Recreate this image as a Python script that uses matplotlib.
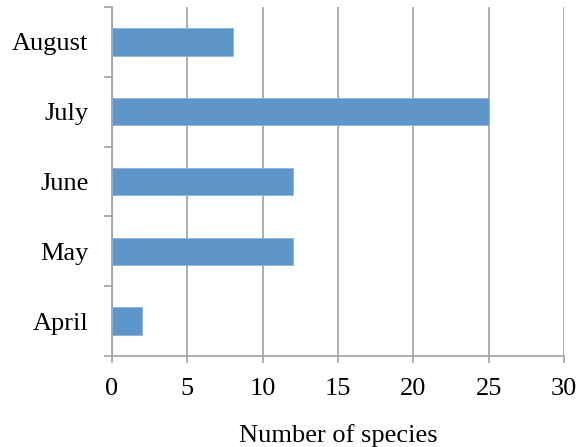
import matplotlib
matplotlib.use("Agg")
import matplotlib.pyplot as plt

months = ["April", "May", "June", "July", "August"]
species = [2, 12, 12, 25, 8]
x_ticks = [0, 5, 10, 15, 20, 25, 30]

plt.rcParams['font.family'] = ['Liberation Serif', 'DejaVu Serif']

fig = plt.figure(figsize=(5.78, 4.47), dpi=100)
ax = fig.add_axes([0.1938, 0.2036, 0.782, 0.7807])

grid_c = "#a0a0a0"
ax.barh(months, species, height=0.39, color="#5f96ca", edgecolor="#8db4dc",
        linewidth=0.6, zorder=3)

ax.set_xlim(0, 30)
ax.set_ylim(-0.5, 4.5)
ax.set_xticks(x_ticks)
ax.set_yticks([i - 0.5 for i in range(6)], minor=False)
ax.set_yticks(range(5), minor=True)
ax.set_yticklabels([""] * 6)
ax.set_yticklabels(months, minor=True)
ax.tick_params(axis="y", which="minor", length=0, pad=17, labelsize=19)
ax.tick_params(axis="y", which="major", length=6, width=1.2, color=grid_c)
ax.tick_params(axis="x", length=5, width=1.2, color=grid_c, labelsize=19, pad=11)

ax.xaxis.grid(True, color=grid_c, linewidth=1.2, zorder=0)
for s in ["top", "right"]:
    ax.spines[s].set_visible(False)
for s in ["left", "bottom"]:
    ax.spines[s].set_color(grid_c)
    ax.spines[s].set_linewidth(1.2)

ax.set_xlabel("Number of species", fontsize=19, labelpad=17)

fig.savefig("out.png", dpi=100)
